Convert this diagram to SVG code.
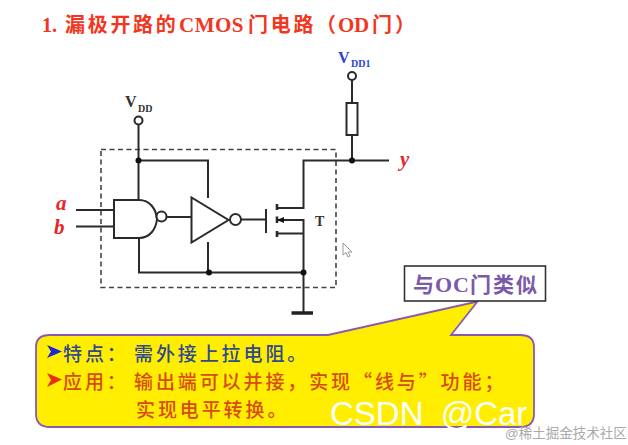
<svg xmlns="http://www.w3.org/2000/svg" width="628" height="445" viewBox="0 0 628 445">
<style>
.w{fill:none;stroke:#2a2a2a;stroke-width:2;stroke-linecap:square}
.s{fill:#fff;stroke:#2a2a2a;stroke-width:2}
.d{fill:#111}
.h{fill:none;stroke:#444;stroke-width:1.6;stroke-dasharray:5 3.5}
.l{font-family:"Liberation Serif",serif;font-weight:700;fill:#333}
.i{font-family:"Liberation Serif",serif;font-weight:700;font-style:italic;fill:#e8262a;font-size:21px}
.t{font-family:"Liberation Serif","Noto Sans CJK SC",sans-serif;font-weight:700;fill:#f2361f;font-size:20px}
.c{font-family:"Noto Sans CJK SC",sans-serif;font-weight:500;font-size:19px;letter-spacing:2.9px}
</style>
<rect width="628" height="445" fill="#fff"/>
<g id="title"><text class="t" y="32"><tspan x="42">1.</tspan><tspan x="65" letter-spacing="2.7">漏极开路的</tspan><tspan x="179" font-size="21" letter-spacing=".5">CMOS</tspan><tspan x="248" letter-spacing="2.7">门电路</tspan><tspan x="316">（</tspan><tspan x="338" font-size="21" letter-spacing="-.4">OD</tspan><tspan x="372">门</tspan><tspan x="395">）</tspan></text></g>
<g id="frame"><rect class="h" x="101" y="149.500" width="235" height="138"/></g>
<g id="connectors">
<path class="w" d="M138.500 125V200M138.500 160.500H208V197M208 243V272.500M139 238V272.500H303.500M303.500 220V312M277 208H303.500V160.500H388M352 80V103M352 135V160M77 210H114M77 226.500H114M167.500 217H191.500M241.500 219.500H266M277 220H303.500M277 233.500H303.500"/>
<path d="M291.500 313H313" fill="none" stroke="#222" stroke-width="3.500"/>
</g>
<g id="vdd"><circle class="s" cx="138.500" cy="120.500" r="4"/><text class="l" x="125" y="107" font-size="16">V</text><text class="l" x="138" y="112" font-size="10">DD</text></g>
<g id="vdd1"><circle class="s" cx="352" cy="76" r="4"/><text class="l" x="338" y="63" font-size="16" style="fill:#2a44d8">V</text><text class="l" x="351" y="67" font-size="10" style="fill:#2a44d8">DD1</text></g>
<g id="resistor"><rect class="s" x="346.500" y="103" width="11" height="32"/></g>
<g id="junctions"><circle class="d" cx="138.500" cy="160.500" r="3"/><circle class="d" cx="209" cy="272.500" r="3"/><circle class="d" cx="303.500" cy="272.500" r="3"/><circle class="d" cx="352" cy="160.500" r="3"/></g>
<g id="nand"><path class="s" d="M114 200H139C150 200 156 209 157 219C156 229 150 238 139 238H114Z"/><circle class="s" cx="161.500" cy="216.500" r="5"/></g>
<g id="inverter"><path class="s" d="M191.500 197.500V242.500L228.500 220Z"/><circle class="s" cx="235.500" cy="219.500" r="5.500"/></g>
<g id="mosfet">
<path class="w" d="M266 210V232"/>
<path d="M277 204V210M277 216.500V223M277 231V237" fill="none" stroke="#2a2a2a" stroke-width="2.600"/>
<path d="M277 220L284 217V223Z" fill="#111"/>
<text class="l" x="315" y="226" font-size="14">T</text>
</g>
<g id="inputs"><text class="i" x="56" y="210">a</text><text class="i" x="54" y="234">b</text></g>
<g id="output"><text class="i" x="400" y="166">y</text></g>
<path id="cursor" d="M343 243V255L346 252.500L348 257L350 256L348 252H352Z" fill="#fff" stroke="#999" stroke-width="1"/>
<g id="callout"><path d="M50 335H328L477.500 301.500L451 335H520Q534 335 534 347V414Q534 427 520 427H50Q36 427 36 414V347Q36 335 50 335Z" fill="#ffee00" stroke="#8a5ab0" stroke-width="1.800"/>
<path d="M47 345L62 351.500L47 358L51 351.500Z" fill="#1c28d8"/><path d="M47 373L62 379.500L47 387L51 380Z" fill="#e83010"/>
<text class="c" x="63" y="361" fill="#2f4a90">特点：<tspan x="134">需外接上拉电阻。</tspan></text>
<text class="c" x="63" y="389" fill="#d84a10">应用：<tspan x="134">输出端可以并接，实现“线与”功能；</tspan></text>
<text class="c" x="136" y="417" fill="#d84a10">实现电平转换。</text></g>
<g id="note"><rect x="404.500" y="266" width="141" height="35" fill="#fff" stroke="#333" stroke-width="1.600"/><text y="292" font-family="Liberation Serif,Noto Sans CJK SC,sans-serif" font-weight="700" font-size="21" fill="#7a5aa8"><tspan x="413">与</tspan><tspan x="435" font-size="22" letter-spacing="1">OC</tspan><tspan x="470">门</tspan><tspan x="493">类</tspan><tspan x="516">似</tspan></text></g>
<g id="watermark"><text x="330" y="425" font-family="Liberation Sans,sans-serif" font-size="33" word-spacing="8" fill="#fff">CSDN @Car</text><text x="505" y="438" font-family="Liberation Sans,Noto Sans CJK SC,sans-serif" font-size="13.500" fill="#aaa">@稀土掘金技术社区</text></g>
</svg>
